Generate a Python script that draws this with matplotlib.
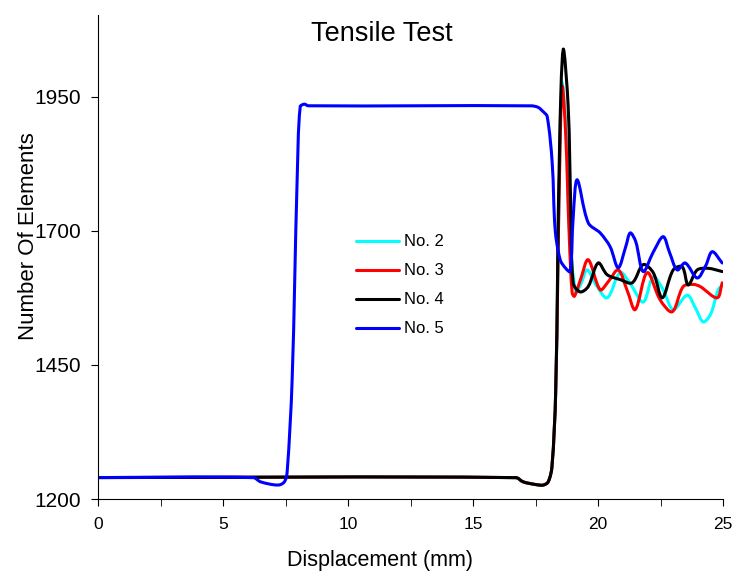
import matplotlib
matplotlib.use("Agg")
import math
import matplotlib.pyplot as plt
from matplotlib.path import Path
from matplotlib.ticker import MultipleLocator

plt.rcParams['font.family'] = ['Liberation Sans', 'DejaVu Sans']

# Shared prefix for No.2-4 (baseline, dip and rise)
x_base = [0, 16.7, 17.0, 17.5, 17.8, 18.0, 18.15, 18.3]
y_base = [1240, 1240, 1232, 1227, 1226, 1232, 1260, 1400]

x2 = x_base + [18.45, 18.55, 18.7, 18.85, 19.1, 19.3, 19.56, 19.9, 20.36, 20.88, 21.3, 21.8, 22.2, 22.6, 23.0, 23.56, 23.9, 24.2, 24.5, 24.8, 25.0]
y2 = y_base + [1800, 1975, 1900, 1700, 1586, 1600, 1627, 1600, 1575, 1622, 1600, 1567, 1614, 1590, 1553, 1580, 1555, 1530, 1545, 1590, 1600]

x3 = x_base + [18.45, 18.56, 18.7, 18.85, 18.96, 19.05, 19.3, 19.6, 20.08, 20.4, 20.8, 21.15, 21.48, 21.96, 22.48, 22.96, 23.4, 23.8, 24.08, 24.76, 24.96]
y3 = y_base + [1800, 1969, 1880, 1680, 1584, 1578, 1610, 1646, 1590, 1605, 1627, 1590, 1553, 1622, 1571, 1549, 1596, 1600, 1596, 1575, 1603]

x4 = x_base + [18.45, 18.6, 18.8, 18.9, 19.0, 19.28, 19.6, 20.0, 20.36, 20.88, 21.36, 21.8, 22.2, 22.56, 23.0, 23.36, 23.6, 23.96, 24.4, 24.96]
y4 = y_base + [1850, 2038, 1931, 1750, 1603, 1586, 1596, 1640, 1618, 1609, 1603, 1637, 1622, 1575, 1627, 1633, 1599, 1627, 1630, 1624]

x5 = [0, 6.2, 6.5, 7.2, 7.45, 7.56, 7.76, 7.96, 8.08, 8.25, 8.4, 17.3, 17.6, 17.8, 17.96, 18.16, 18.28, 18.48, 18.7, 18.88, 19.0, 19.16, 19.6, 20.08, 20.48, 20.8, 21.1, 21.28, 21.5, 21.8, 22.2, 22.6, 22.85, 23.16, 23.48, 23.96, 24.3, 24.56, 24.96]
y5 = [1240, 1240, 1232, 1226, 1232, 1250, 1422, 1795, 1931, 1936, 1933, 1933, 1930, 1922, 1913, 1827, 1702, 1646, 1630, 1624, 1726, 1795, 1715, 1696, 1670, 1631, 1670, 1696, 1680, 1624, 1660, 1689, 1660, 1627, 1640, 1612, 1635, 1661, 1640]

series = [("No. 2", x2, y2, "#00FFFF"),
          ("No. 3", x3, y3, "#FF0000"),
          ("No. 4", x4, y4, "#000000"),
          ("No. 5", x5, y5, "#0000FF")]

XLIM = (0, 25)
YLIM = (1200, 2102)


def smooth_path(xs, ys, ax):
    """Smoothed-line style: cubic Bezier through the given points, with
    tangents scaled to the neighbouring segment lengths (in screen space)."""
    tr = ax.transData
    P = [tuple(p) for p in tr.transform(list(zip(xs, ys)))]
    n = len(P)

    def dist(a, b):
        return math.hypot(b[0] - a[0], b[1] - a[1]) or 1e-9

    tang = []
    for i in range(n):
        a = P[i - 1] if i > 0 else P[i]
        b = P[i + 1] if i < n - 1 else P[i]
        d = (dist(a, P[i]) if i > 0 else 0) + (dist(P[i], b) if i < n - 1 else 0)
        tang.append(((b[0] - a[0]) / d, (b[1] - a[1]) / d))
    verts = [P[0]]
    codes = [Path.MOVETO]
    k = 0.33
    for i in range(n - 1):
        p1, p2 = P[i], P[i + 1]
        L = dist(p1, p2)
        c1 = (p1[0] + tang[i][0] * L * k, p1[1] + tang[i][1] * L * k)
        c2 = (p2[0] - tang[i + 1][0] * L * k, p2[1] - tang[i + 1][1] * L * k)
        verts += [c1, c2, p2]
        codes += [Path.CURVE4] * 3
    poly = Path(verts, codes).to_polygons(closed_only=False)[0]
    return tr.inverted().transform(poly)


fig = plt.figure(figsize=(7.32, 5.72), dpi=100)
ax = fig.add_axes([0.134, 0.1276, 0.854, 0.846])
ax.set_xlim(*XLIM)
ax.set_ylim(*YLIM)

for label, xs, ys, c in series:
    poly = smooth_path(xs, ys, ax)
    ax.plot(poly[:, 0], poly[:, 1], color=c, lw=2.2, label=label,
            solid_joinstyle='round', solid_capstyle='round')

ax.set_xlim(*XLIM)
ax.set_ylim(*YLIM)
ax.set_xticks([0, 5, 10, 15, 20, 25])
ax.xaxis.set_minor_locator(MultipleLocator(2.5))
ax.set_yticks([1200, 1450, 1700, 1950])
ax.spines['top'].set_visible(False)
ax.spines['right'].set_visible(False)
ax.tick_params(axis='x', which='both', direction='out', length=5, labelsize=12.5, pad=8)
ax.tick_params(axis='y', direction='out', length=5, labelsize=15, pad=7)
ax.set_xlabel("Displacement (mm)", fontsize=15.5)
ax.xaxis.set_label_coords(0.451, -0.106)
ax.set_ylabel("Number Of Elements", fontsize=16)
ax.yaxis.set_label_coords(-0.094, 0.543)
ax.text(11.35, 2053, "Tensile Test", fontsize=19.5, ha='center', va='baseline')

ax.legend(loc='upper left', bbox_to_anchor=(0.399, 0.564),
          frameon=False, borderpad=0, fontsize=12, handlelength=2.6,
          labelspacing=0.84, handletextpad=0.3)

fig.savefig("out.png", dpi=100)
